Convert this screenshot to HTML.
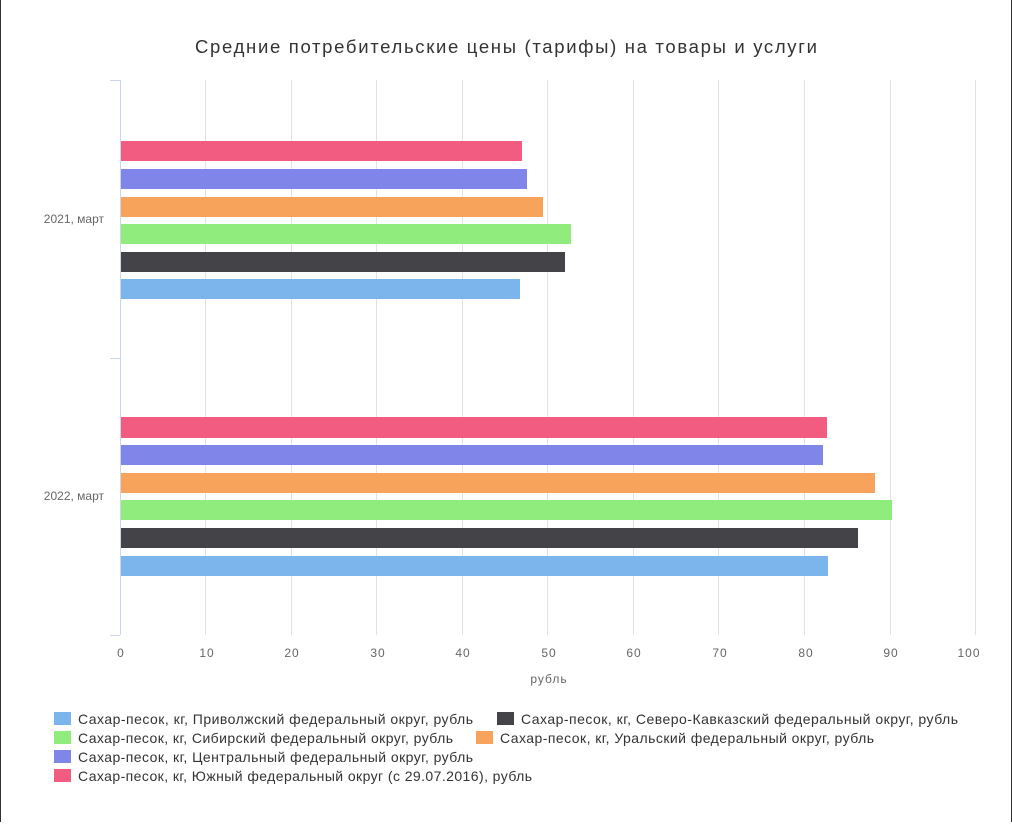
<!DOCTYPE html>
<html><head><meta charset="utf-8"><style>
body{margin:0;background:#fff;}
svg text{font-family:"Liberation Sans",sans-serif;}
</style></head><body>
<svg width="1012" height="822" xmlns="http://www.w3.org/2000/svg">
<rect x="0" y="0" width="1012" height="822" fill="#fff"/>
<line x1="0.5" y1="0" x2="0.5" y2="822" stroke="#333" stroke-width="1"/>
<line x1="1011.5" y1="0" x2="1011.5" y2="822" stroke="#333" stroke-width="1"/>
<text x="195" y="53" font-size="18.5" fill="#333" textLength="622" lengthAdjust="spacing">Средние потребительские цены (тарифы) на товары и услуги</text>
<g stroke="#e3e3e3" stroke-width="1">
<line x1="205.5" y1="80" x2="205.5" y2="635"/><line x1="291.5" y1="80" x2="291.5" y2="635"/>
<line x1="376.5" y1="80" x2="376.5" y2="635"/><line x1="462.5" y1="80" x2="462.5" y2="635"/>
<line x1="547.5" y1="80" x2="547.5" y2="635"/><line x1="633.5" y1="80" x2="633.5" y2="635"/>
<line x1="718.5" y1="80" x2="718.5" y2="635"/><line x1="804.5" y1="80" x2="804.5" y2="635"/>
<line x1="890.5" y1="80" x2="890.5" y2="635"/><line x1="975.5" y1="80" x2="975.5" y2="635"/>
</g>
<g stroke="#ccd6eb" stroke-width="1">
<line x1="120.5" y1="80" x2="120.5" y2="635"/>
<line x1="110" y1="80.5" x2="120" y2="80.5"/>
<line x1="110" y1="358.5" x2="120" y2="358.5"/>
<line x1="110" y1="635.5" x2="120" y2="635.5"/>
</g>
<g>
<rect x="121" y="141" width="401" height="20" fill="#f15c80"/>
<rect x="121" y="169" width="406" height="20" fill="#8085e9"/>
<rect x="121" y="197" width="422" height="20" fill="#f7a35c"/>
<rect x="121" y="224" width="450" height="20" fill="#90ed7d"/>
<rect x="121" y="252" width="444" height="20" fill="#434348"/>
<rect x="121" y="279" width="399" height="20" fill="#7cb5ec"/>
<rect x="121" y="417" width="706" height="21" fill="#f15c80"/>
<rect x="121" y="445" width="702" height="20" fill="#8085e9"/>
<rect x="121" y="473" width="754" height="20" fill="#f7a35c"/>
<rect x="121" y="500" width="771" height="20" fill="#90ed7d"/>
<rect x="121" y="528" width="737" height="20" fill="#434348"/>
<rect x="121" y="556" width="707" height="20" fill="#7cb5ec"/>
</g>
<g font-size="12" fill="#666" text-anchor="end">
<text x="104" y="223">2021, март</text>
<text x="104" y="500">2022, март</text>
</g>
<g font-size="12" fill="#666" text-anchor="middle" letter-spacing="1">
<text x="121" y="657">0</text><text x="207" y="657">10</text><text x="292" y="657">20</text>
<text x="378" y="657">30</text><text x="463" y="657">40</text><text x="549" y="657">50</text>
<text x="634" y="657">60</text><text x="720" y="657">70</text><text x="806" y="657">80</text>
<text x="891" y="657">90</text><text x="969" y="657">100</text>
<text x="549" y="683">рубль</text>
</g>
<g font-size="14" fill="#333">
<rect x="54" y="712" width="17" height="13" fill="#7cb5ec"/>
<text x="78" y="724" textLength="395" lengthAdjust="spacing">Сахар-песок, кг, Приволжский федеральный округ, рубль</text>
<rect x="497" y="712" width="17" height="13" fill="#434348"/>
<text x="521" y="724" textLength="437" lengthAdjust="spacing">Сахар-песок, кг, Северо-Кавказский федеральный округ, рубль</text>
<rect x="54" y="731" width="17" height="13" fill="#90ed7d"/>
<text x="78" y="743" textLength="375" lengthAdjust="spacing">Сахар-песок, кг, Сибирский федеральный округ, рубль</text>
<rect x="476" y="731" width="17" height="13" fill="#f7a35c"/>
<text x="500" y="743" textLength="374" lengthAdjust="spacing">Сахар-песок, кг, Уральский федеральный округ, рубль</text>
<rect x="54" y="750" width="17" height="13" fill="#8085e9"/>
<text x="78" y="762" textLength="395" lengthAdjust="spacing">Сахар-песок, кг, Центральный федеральный округ, рубль</text>
<rect x="54" y="769" width="17" height="13" fill="#f15c80"/>
<text x="78" y="781" textLength="454" lengthAdjust="spacing">Сахар-песок, кг, Южный федеральный округ (с 29.07.2016), рубль</text>
</g>
</svg>
</body></html>
